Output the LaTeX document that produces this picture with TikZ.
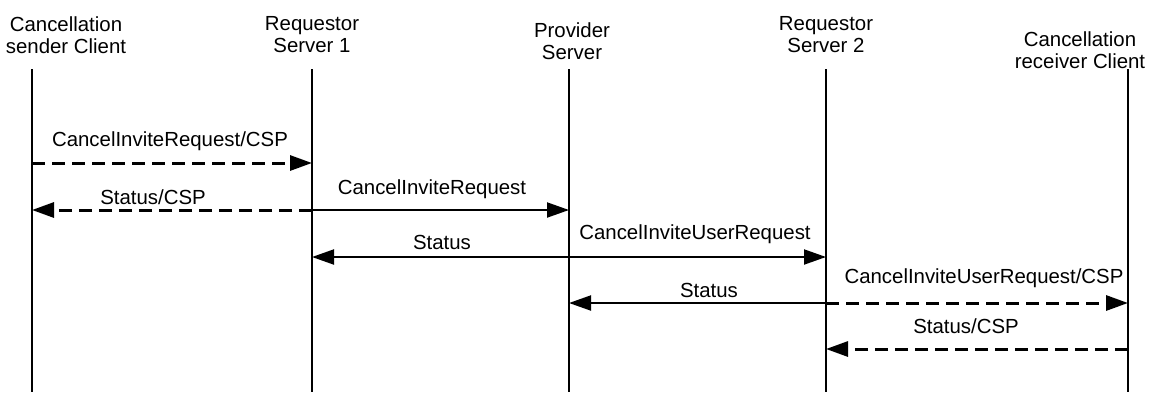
\documentclass[tikz,border=0pt]{standalone}
\usepackage{fontspec}
\setmainfont{Liberation Sans}
\usetikzlibrary{arrows.meta}

\begin{document}
\begin{tikzpicture}[x=0.5pt,y=-0.5pt,
  head/.style={font=\fontsize{10.2}{11}\selectfont,align=center,inner sep=0pt},
  lbl/.style={font=\fontsize{10.2}{11}\selectfont,inner sep=0pt,anchor=base},
  life/.style={line width=1pt},
  msg/.style={line width=1pt,-{Triangle[length=11pt,width=7.5pt]}},
  csp/.style={msg,line width=1.5pt,dash pattern=on 6.5pt off 3.5pt}]
\useasboundingbox (0,0) rectangle (1150,392);
\node[head] (sc) at (66,35) {Cancellation\\sender Client};
\node[head] (rs1) at (312,35) {Requestor\\Server 1};
\node[head] (ps) at (572,41) {Provider\\Server};
\node[head] (rs2) at (826,35) {Requestor\\Server 2};
\node[head] (rc) at (1080,50) {Cancellation\\receiver Client};
\coordinate (sct) at (32,69);
\coordinate (scb) at (32,392);
\coordinate (rs1t) at (312,69);
\coordinate (rs1b) at (312,392);
\coordinate (pst) at (569,69);
\coordinate (psb) at (569,392);
\coordinate (rs2t) at (826,69);
\coordinate (rs2b) at (826,392);
\coordinate (rct) at (1128,69);
\coordinate (rcb) at (1128,392);
\draw[life] (sct) -- (scb);
\draw[life] (rs1t) -- (rs1b);
\draw[life] (pst) -- (psb);
\draw[life] (rs2t) -- (rs2b);
\draw[life] (rct) -- (rcb);
\coordinate (r1) at (0,163);
\coordinate (r2) at (0,210);
\coordinate (r3) at (0,257);
\coordinate (r4) at (0,303);
\coordinate (r5) at (0,349);
\draw[csp] (sct |- r1) -- (rs1t |- r1);
\draw[csp] (rs1t |- r2) -- (sct |- r2);
\draw[msg] (rs1t |- r2) -- (pst |- r2);
\draw[msg] (pst |- r3) -- (rs1t |- r3);
\draw[msg] (pst |- r3) -- (rs2t |- r3);
\draw[msg] (rs2t |- r4) -- (pst |- r4);
\draw[csp] (rs2t |- r4) -- (rct |- r4);
\draw[csp] (rct |- r5) -- (rs2t |- r5);
\node[lbl] (m1) at (170,146) {CancelInviteRequest/CSP};
\node[lbl] (m2) at (153,204) {Status/CSP};
\node[lbl] (m3) at (432,194) {CancelInviteRequest};
\node[lbl] (m4) at (442,249) {Status};
\node[lbl] (m5) at (695,239) {CancelInviteUserRequest};
\node[lbl] (m6) at (709,297) {Status};
\node[lbl] (m7) at (984,283) {CancelInviteUserRequest/CSP};
\node[lbl] (m8) at (966,333) {Status/CSP};
\end{tikzpicture}
\end{document}
